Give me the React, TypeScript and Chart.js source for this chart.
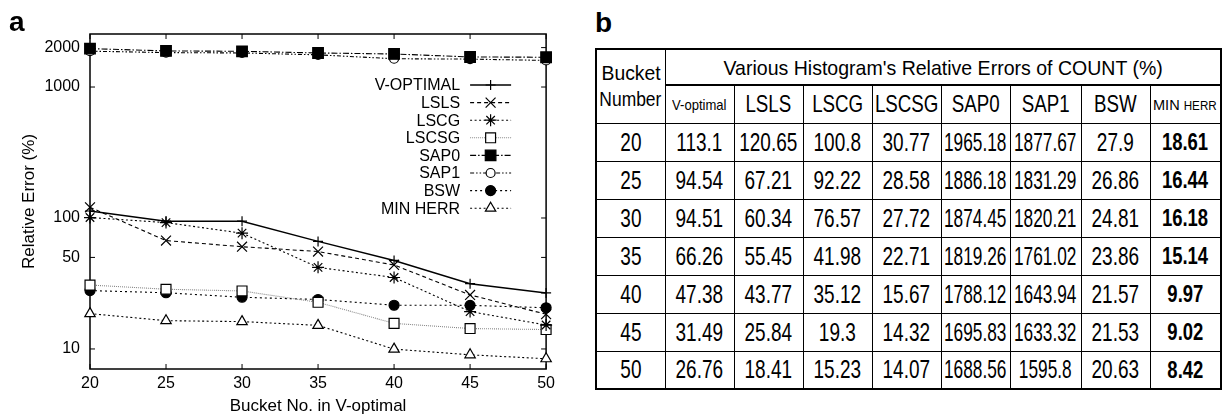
import React, { useEffect, useRef } from 'react';
import { Chart, registerables } from 'chart.js';
import { drawPoint } from 'chart.js/helpers';

Chart.register(...registerables);

const FONT = "'Liberation Sans', Arial, Helvetica, sans-serif";

// ---------- data ----------
const bucketNumbers = [20, 25, 30, 35, 40, 45, 50];
const seriesNames = ['V-OPTIMAL', 'LSLS', 'LSCG', 'LSCSG', 'SAP0', 'SAP1', 'BSW', 'MIN HERR'];
const vOptimal = [113.1, 94.54, 94.51, 66.26, 47.38, 31.49, 26.76];
const lsls = [120.65, 67.21, 60.34, 55.45, 43.77, 25.84, 18.41];
const lscg = [100.8, 92.22, 76.57, 41.98, 35.12, 19.3, 15.23];
const lscsg = [30.77, 28.58, 27.72, 22.71, 15.67, 14.32, 14.07];
const sap0 = [1965.18, 1886.18, 1874.45, 1819.26, 1788.12, 1695.83, 1688.56];
const sap1 = [1877.67, 1831.29, 1820.21, 1761.02, 1643.94, 1633.32, 1595.8];
const bsw = [27.9, 26.86, 24.81, 23.86, 21.57, 21.53, 20.63];
const minHerr = [18.61, 16.44, 16.18, 15.14, 9.97, 9.02, 8.42];
const allSeries = [vOptimal, lsls, lscg, lscsg, sap0, sap1, bsw, minHerr];
const xTickValues = [20, 25, 30, 35, 40, 45, 50];
const yTickValues = [10, 50, 100, 1000, 2000];
const tableTitle = "Various Histogram's Relative Errors of COUNT (%)";

// ---------- styles per series ----------
const seriesStyles = [
  { dash: [], color: '#000', width: 1.4, point: 'cross', r: 5, fill: '#000' },
  { dash: [4, 3], color: '#000', width: 1.1, point: 'crossRot', r: 7, fill: '#000' },
  { dash: [2, 2.5], color: '#000', width: 1.1, point: 'star', r: 6, fill: '#000' },
  { dash: [1, 1], color: '#888', width: 1.1, point: 'rect', r: 7, fill: '#fff' },
  { dash: [6, 2, 1.5, 2], color: '#000', width: 1.1, point: 'rect', r: 7.5, fill: '#000' },
  { dash: [4, 2, 1.5, 2, 1.5, 2], color: '#000', width: 1.1, point: 'circle', r: 4.5, fill: '#fff' },
  { dash: [2, 3], color: '#000', width: 1.1, point: 'circle', r: 5, fill: '#000' },
  { dash: [2, 2.5], color: '#000', width: 1.1, point: 'triangle', r: 6, fill: '#fff' },
];

const framePlugin = {
  id: 'frameTicks',
  beforeDatasetsDraw(chart: any) {
    const { ctx, chartArea: a, scales } = chart;
    ctx.save();
    ctx.strokeStyle = '#000';
    ctx.lineWidth = 1.5;
    ctx.strokeRect(a.left, a.top, a.right - a.left, a.bottom - a.top);
    ctx.lineWidth = 1;
    const L = 5;
    const seg = (x1: number, y1: number, x2: number, y2: number) => {
      ctx.beginPath();
      ctx.moveTo(x1, y1);
      ctx.lineTo(x2, y2);
      ctx.stroke();
    };
    scales.x.ticks.forEach((t: any) => {
      const px = scales.x.getPixelForValue(t.value);
      seg(px, a.bottom, px, a.bottom - L);
      seg(px, a.top, px, a.top + L);
    });
    scales.y.ticks.forEach((t: any) => {
      const py = scales.y.getPixelForValue(t.value);
      seg(a.left, py, a.left + L, py);
      seg(a.right, py, a.right - L, py);
    });
    ctx.restore();
  },
};

const legendPlugin = {
  id: 'insideLegend',
  afterDatasetsDraw(chart: any) {
    const { ctx, chartArea: a } = chart;
    ctx.save();
    chart.data.datasets.forEach((ds: any, i: number) => {
      const y = a.top + 51 + i * 17.6;
      ctx.fillStyle = '#000';
      ctx.font = `16px ${FONT}`;
      ctx.textAlign = 'right';
      ctx.textBaseline = 'middle';
      ctx.fillText(ds.label, a.right - 86, y + 1);
      ctx.strokeStyle = ds.borderColor;
      ctx.lineWidth = ds.borderWidth;
      ctx.setLineDash(ds.borderDash || []);
      ctx.beginPath();
      ctx.moveTo(a.right - 76, y);
      ctx.lineTo(a.right - 35, y);
      ctx.stroke();
      ctx.setLineDash([]);
      ctx.fillStyle = ds.pointBackgroundColor;
      ctx.strokeStyle = '#000';
      ctx.lineWidth = ds.pointBorderWidth;
      drawPoint(ctx, { pointStyle: ds.pointStyle, radius: ds.pointRadius, borderWidth: ds.pointBorderWidth, rotation: 0 }, a.right - 55.5, y);
    });
    ctx.restore();
  },
};

function ChartPanel() {
  const ref = useRef<HTMLCanvasElement | null>(null);
  useEffect(() => {
    if (!ref.current) return;
    Chart.defaults.font.family = FONT;
    const datasets = allSeries.map((vals, i) => {
      const s = seriesStyles[i];
      return {
        label: seriesNames[i],
        data: bucketNumbers.map((x, j) => ({ x, y: vals[j] })),
        borderColor: s.color,
        borderWidth: s.width,
        borderDash: s.dash,
        pointStyle: s.point,
        pointRadius: s.r,
        pointBorderWidth: 1.2,
        pointBorderColor: '#000',
        pointBackgroundColor: s.fill,
        fill: false,
        tension: 0,
        clip: false,
      };
    });
    const chart = new Chart(ref.current, {
      type: 'line',
      data: { datasets } as any,
      options: {
        animation: false,
        responsive: false,
        devicePixelRatio: 1,
        layout: { padding: { top: 34, right: 11, left: 0, bottom: 0 } },
        plugins: { legend: { display: false }, tooltip: { enabled: false } },
        scales: {
          x: {
            type: 'linear',
            min: 20,
            max: 50,
            afterBuildTicks: (s: any) => {
              s.ticks = xTickValues.map((v) => ({ value: v }));
            },
            ticks: { color: '#000', font: { size: 16 }, padding: 5, maxRotation: 0, autoSkip: false, callback: (v: any) => String(v) },
            grid: { display: false, drawTicks: false },
            border: { display: false },
            title: { display: true, text: 'Bucket No. in V-optimal', color: '#000', font: { size: 17 }, padding: { top: 0, bottom: 0 } },
            afterFit: (s: any) => {
              s.height = 48;
            },
          },
          y: {
            type: 'logarithmic',
            min: 7.03,
            max: 2540,
            afterBuildTicks: (s: any) => {
              s.ticks = yTickValues.map((v) => ({ value: v }));
            },
            ticks: { color: '#000', font: { size: 16 }, padding: 10, autoSkip: false, callback: (v: any) => String(v) },
            grid: { display: false, drawTicks: false },
            border: { display: false },
            title: { display: true, text: 'Relative Error (%)', color: '#000', font: { size: 17 }, padding: { top: 19, bottom: 0 } },
            afterFit: (s: any) => {
              s.width = 90;
            },
          },
        },
      } as any,
      plugins: [framePlugin, legendPlugin],
    });
    return () => chart.destroy();
  }, []);
  return <canvas ref={ref} width={560} height={417} style={{ width: 560, height: 417, display: 'block' }} />;
}

// ---------- table ----------
const colWidths = [69, 69, 69, 69, 69, 69, 71, 69, 71];
const BORDER = '1.5px solid #000';

function Cell({ children, scale = 0.76, size = 25, bold = false, colSpan, rowSpan, style }: any) {
  return (
    <td colSpan={colSpan} rowSpan={rowSpan} style={{ border: BORDER, padding: 0, overflow: 'visible', ...style }}>
      <div style={{ display: 'flex', justifyContent: 'center', alignItems: 'center', whiteSpace: 'nowrap' }}>
        <span
          style={{
            display: 'inline-block',
            flexShrink: 0,
            transform: `scaleX(${scale})`,
            fontSize: size,
            lineHeight: 1,
            fontWeight: bold ? 'bold' : 'normal',
          }}
        >
          {children}
        </span>
      </div>
    </td>
  );
}

function DataTable() {
  const cols = [vOptimal, lsls, lscg, lscsg, sap0, sap1, bsw, minHerr];
  const headerNames = ['V-optimal', 'LSLS', 'LSCG', 'LSCSG', 'SAP0', 'SAP1', 'BSW', 'MIN HERR'];
  return (
    <table
      style={{
        position: 'absolute',
        left: 595,
        top: 48,
        width: 625,
        borderCollapse: 'collapse',
        tableLayout: 'fixed',
        fontFamily: FONT,
        color: '#000',
        border: '2px solid #000',
      }}
    >
      <colgroup>
        {colWidths.map((w, i) => (
          <col key={i} style={{ width: w }} />
        ))}
      </colgroup>
      <tbody>
        <tr style={{ height: 36 }}>
          <td rowSpan={2} style={{ border: BORDER, padding: 0 }}>
            <div style={{ display: 'flex', flexDirection: 'column', alignItems: 'center', lineHeight: '26px', fontSize: 21 }}>
              <span style={{ display: 'inline-block', transform: 'scaleX(0.92)', whiteSpace: 'nowrap' }}>Bucket</span>
              <span style={{ display: 'inline-block', transform: 'scaleX(0.83)', whiteSpace: 'nowrap' }}>Number</span>
            </div>
          </td>
          <Cell colSpan={8} size={21} scale={0.93} style={{ borderBottom: '2px solid #000' }}>
            {tableTitle}
          </Cell>
        </tr>
        <tr style={{ height: 38 }}>
          {headerNames.map((h, i) => {
            if (i === 0)
              return (
                <Cell key={i} size={15} scale={0.87}>
                  {h}
                </Cell>
              );
            if (i === 7)
              return (
                <Cell key={i} size={15} scale={0.97}>
                  MIN <span style={{ fontSize: 12 }}>HERR</span>
                </Cell>
              );
            return (
              <Cell key={i} size={24} scale={0.78}>
                {h}
              </Cell>
            );
          })}
        </tr>
        {bucketNumbers.map((b, r) => (
          <tr key={b} style={{ height: 38 }}>
            <Cell>{String(b)}</Cell>
            {cols.map((c, i) => (
              <Cell key={i} scale={i === 4 || i === 5 ? 0.69 : i === 7 ? 0.77 : 0.76} size={i === 7 ? 24 : 25} bold={i === 7}>
                {String(c[r])}
              </Cell>
            ))}
          </tr>
        ))}
      </tbody>
    </table>
  );
}

export default function App() {
  return (
    <div style={{ position: 'absolute', left: 0, top: 0, width: 1224, height: 417, background: '#fff', overflow: 'hidden', fontFamily: FONT }}>
      <div style={{ position: 'absolute', left: 0, top: 0 }}>
        <ChartPanel />
      </div>
      <div style={{ position: 'absolute', left: 9, top: 8, fontSize: 28, lineHeight: '28px', fontWeight: 'bold' }}>a</div>
      <div style={{ position: 'absolute', left: 595, top: 9, fontSize: 28, lineHeight: '28px', fontWeight: 'bold' }}>b</div>
      <DataTable />
    </div>
  );
}
